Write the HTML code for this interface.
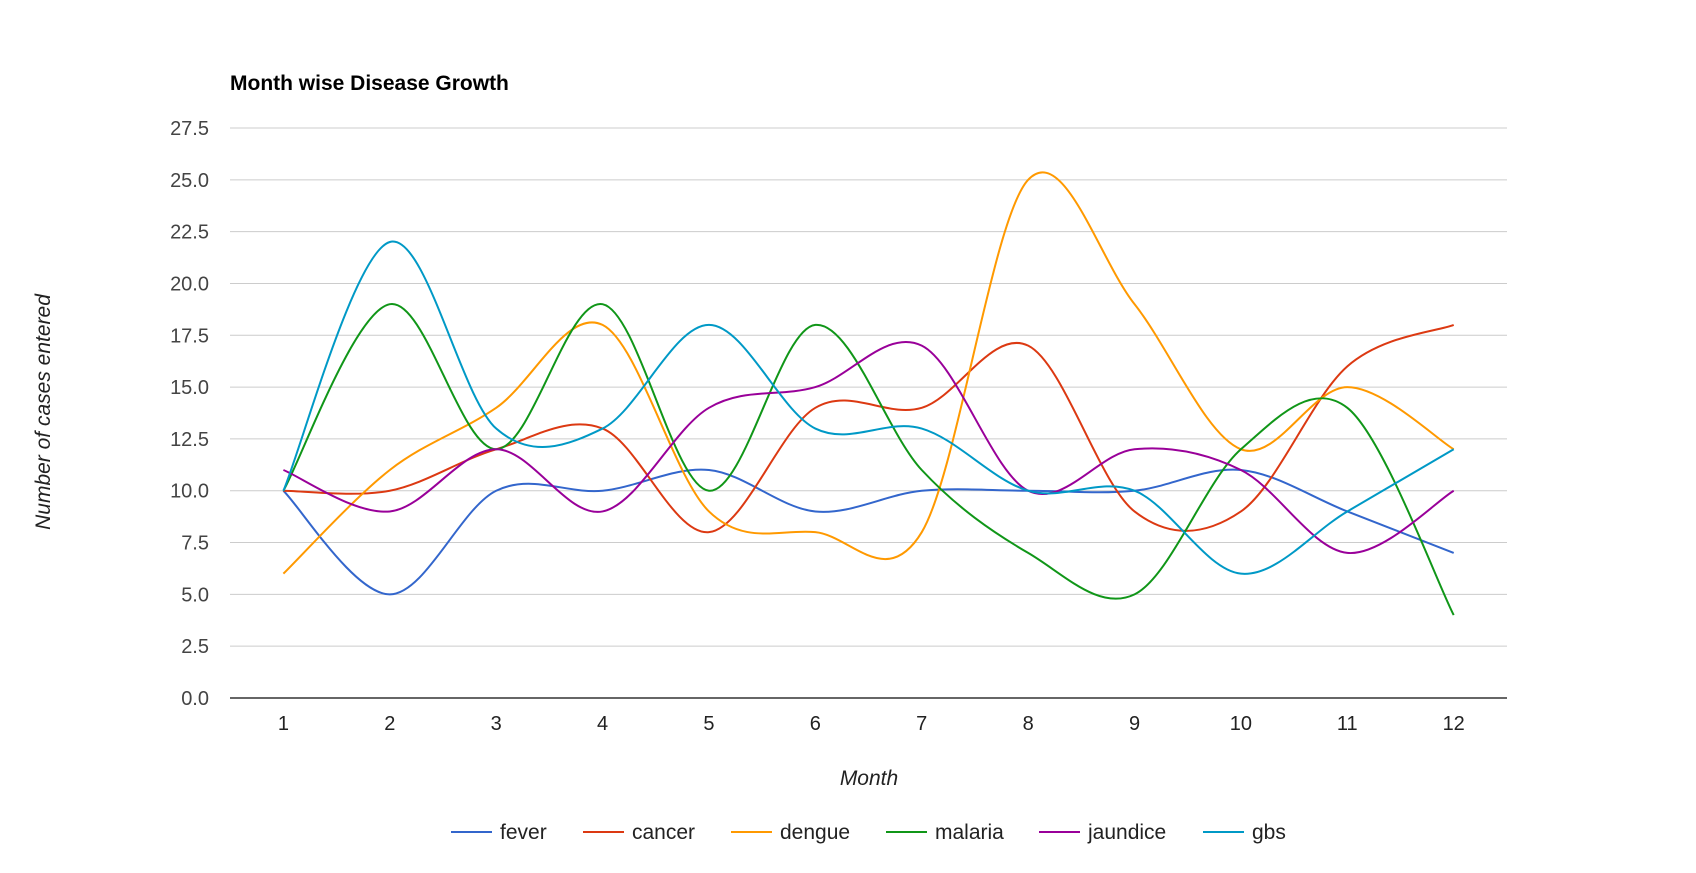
<!DOCTYPE html>
<html><head><meta charset="utf-8">
<style>
body{margin:0;background:#fff;font-family:"Liberation Sans",Arial,sans-serif;}
svg{display:block}
</style></head>
<body>
<svg id="chart" width="1696" height="873">
<text x="230" y="90" font-size="21" font-weight="bold" fill="#000">Month wise Disease Growth</text>
<g id="grid"></g><g id="series"></g><g id="legend"></g>
<text transform="translate(50,412) rotate(-90)" text-anchor="middle" font-size="21" font-style="italic" fill="#222">Number of cases entered</text>
<text x="869" y="785" text-anchor="middle" font-size="21" font-style="italic" fill="#222">Month</text>
</svg>
<script>
const months=[1,2,3,4,5,6,7,8,9,10,11,12];
const yTicks=[0,2.5,5,7.5,10,12.5,15,17.5,20,22.5,25,27.5];
const seriesNames=["fever","cancer","dengue","malaria","jaundice","gbs"];
const seriesColors=["#3366cc","#dc3912","#ff9900","#109618","#990099","#0099c6"];
const fever=[10,5,10,10,11,9,10,10,10,11,9,7];
const cancer=[10,10,12,13,8,14,14,17,9,9,16,18];
const dengue=[6,11,14,18,9,8,8,25,19,12,15,12];
const malaria=[10,19,12,19,10,18,11,7,5,12,14,4];
const jaundice=[11,9,12,9,14,15,17,10,12,11,7,10];
const gbs=[10,22,13,13,18,13,13,10,10,6,9,12];
const allSeries=[fever,cancer,dengue,malaria,jaundice,gbs];
const NS="http://www.w3.org/2000/svg";
const L=230,R=1507,T=128,B=698;
function xs(m){return 283.4+(m-1)*(1453.7-283.4)/11;}
function ys(v){return B-(v/27.5)*(B-T);}
function mk(tag,attrs,parent){const e=document.createElementNS(NS,tag);for(const k in attrs)e.setAttribute(k,attrs[k]);parent.appendChild(e);return e;}
const grid=document.getElementById('grid');
yTicks.forEach(t=>{
  const l=mk('line',{x1:L,x2:R,y1:ys(t),y2:ys(t),stroke:t===0?'#333':'#ccc','stroke-width':t===0?1.5:1},grid);
  
  
  const tx=mk('text',{x:209,y:ys(t)+7,'text-anchor':'end','font-size':20,fill:'#444'},grid);
  tx.textContent=t.toFixed(1);
  
  
});
months.forEach(m=>{
  const tx=mk('text',{x:xs(m),y:730,'text-anchor':'middle','font-size':20,fill:'#222'},grid);
  tx.textContent=m;
  
  
});
const sg=document.getElementById('series');
allSeries.forEach((vals,i)=>{
  const p=vals.map((v,j)=>[xs(months[j]),ys(v)]);
  let d='M'+p[0][0]+','+p[0][1];
  for(let j=0;j<p.length-1;j++){
    const p0=p[j-1]||p[j],p1=p[j],p2=p[j+1],p3=p[j+2]||p[j+1];
    const c1=[p1[0]+(p2[0]-p0[0])/6,p1[1]+(p2[1]-p0[1])/6];
    const c2=[p2[0]-(p3[0]-p1[0])/6,p2[1]-(p3[1]-p1[1])/6];
    d+=` C${c1[0]},${c1[1]} ${c2[0]},${c2[1]} ${p2[0]},${p2[1]}`;
  }
  const path=mk('path',{d:d,fill:'none',stroke:seriesColors[i],'stroke-width':2},sg);
  
  
});
const lg=document.getElementById('legend');
const lx=[451,583,731,886,1039,1203];
seriesNames.forEach((n,i)=>{
  const g=mk('g',{},lg);
  
  
  mk('line',{x1:lx[i],x2:lx[i]+41,y1:832,y2:832,stroke:seriesColors[i],'stroke-width':2},g);
  const t=mk('text',{x:lx[i]+49,y:839,'font-size':21,fill:'#222'},g);
  t.textContent=n;
});
</script>
</body></html>
